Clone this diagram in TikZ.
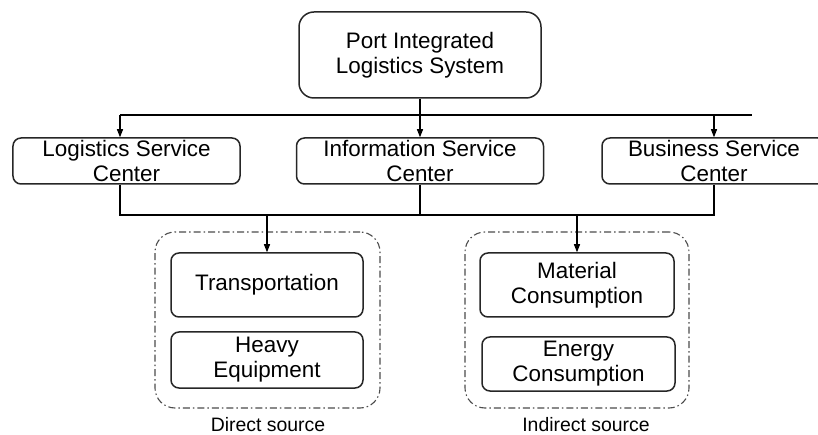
\documentclass[tikz,border=0pt]{standalone}
\usepackage{fontspec}
\setmainfont{Liberation Sans}
\usetikzlibrary{arrows.meta}
\begin{document}
\begin{tikzpicture}[x=1bp,y=-1bp,
  box/.style={draw=black!85, line width=1.5bp, rounded corners=8bp, align=center, inner sep=0pt,
    font=\fontsize{22.5}{25}\selectfont},
  grp/.style={draw=black!70, line width=1.1bp, rounded corners=20bp,
    dash pattern=on 7bp off 3bp on 1.5bp off 3bp},
  conn/.style={line width=1.1bp, draw=black},
  arr/.style={conn, -{Triangle[length=8bp,width=6bp]}},
  captext/.style={font=\fontsize{19.5}{22}\selectfont, inner sep=0pt}]
\useasboundingbox (0,0) rectangle (818,435);
\begin{scope}
\clip (0,0) rectangle (818,435);
\node[box, rounded corners=15bp, minimum width=242bp, minimum height=86bp] (top) at (420,55) {Port Integrated\\Logistics System};
\node[box, minimum width=227bp, minimum height=46bp] (log) at (126.5,161) {Logistics Service\\Center};
\node[box, minimum width=247bp, minimum height=46bp] (info) at (420,161) {Information Service\\Center};
\node[box, minimum width=224bp, minimum height=46bp] (biz) at (714,161) {Business Service\\Center};
\node[grp, minimum width=225bp, minimum height=176bp] (gl) at (267.5,320) {};
\node[grp, minimum width=224bp, minimum height=176bp] (gr) at (577,320) {};
\node[box, minimum width=192bp, minimum height=64bp] (trans) at (267,285) {Transportation};
\node[box, minimum width=192bp, minimum height=56bp] (heavy) at (267,360) {Heavy\\Equipment};
\node[box, minimum width=194bp, minimum height=64bp] (mat) at (577,285) {Material\\Consumption};
\node[box, minimum width=193bp, minimum height=54bp] (energy) at (578.5,364) {Energy\\Consumption};
\node[captext] (dcap) at (268,425) {Direct source};
\node[captext] (icap) at (586,425) {Indirect source};
\coordinate (hl) at (120,115);
\coordinate (hr) at (752,115);
\coordinate (bl) at (120,215);
\coordinate (br) at (714,215);
\draw[arr] (top.south) -- (info.north);
\draw[conn] (hl) -- (hr);
\draw[arr] (hl) -- (hl |- log.north);
\draw[arr] (biz.north |- hl) -- (biz.north);
\draw[conn] (hl |- log.south) -- (bl) -- (br) -- (biz.south);
\draw[conn] (info.south) -- (info.south |- bl);
\draw[arr] (trans.north |- bl) -- (trans.north);
\draw[arr] (mat.north |- bl) -- (mat.north);
\end{scope}
\end{tikzpicture}
\end{document}
